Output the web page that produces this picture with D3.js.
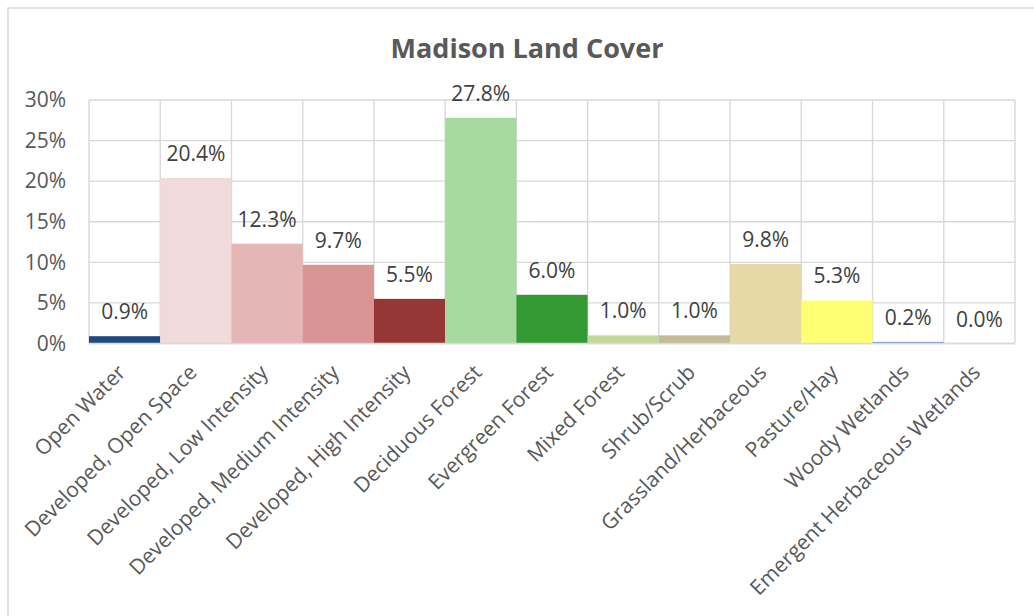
<!DOCTYPE html>
<html><head><meta charset="utf-8">
<script src="https://cdn.jsdelivr.net/npm/d3@7"></script>
<style>body{margin:0;background:#fff;} svg{display:block;}</style>
</head><body>
<svg id="chart" width="1034" height="616"></svg>
<script>
const categories = ["Open Water","Developed, Open Space","Developed, Low Intensity","Developed, Medium Intensity","Developed, High Intensity","Deciduous Forest","Evergreen Forest","Mixed Forest","Shrub/Scrub","Grassland/Herbaceous","Pasture/Hay","Woody Wetlands","Emergent Herbaceous Wetlands"];
const values = [0.009,0.204,0.123,0.097,0.055,0.278,0.060,0.010,0.010,0.098,0.053,0.002,0.000];
const colors = ["#1f497d","#f0dada","#e5b6b6","#d99594","#953735","#a6da9f","#339933","#c4d79b","#c4bb97","#e6d9a7","#ffff73","#6f9bd0","#ffffff"];
const yTicks = [0,0.05,0.10,0.15,0.20,0.25,0.30];
const title = "Madison Land Cover";

const svg = d3.select("#chart");
const font = "'Open Sans', sans-serif";
const m = {left: 89, right: 1015, top: 100, bottom: 343.5};

svg.append("rect").attr("x",8).attr("y",8).attr("width",1040).attr("height",640)
  .attr("fill","#fff").attr("stroke","#d9d9d9").attr("stroke-width",1.5);

svg.append("text").attr("x",527).attr("y",58).attr("text-anchor","middle")
  .attr("font-family",font).attr("font-weight","bold").attr("font-size",27)
  .attr("fill","#595959").text(title);

const x = d3.scaleBand().domain(categories).range([m.left,m.right]).padding(0);
const y = d3.scaleLinear().domain([0,0.30]).range([m.bottom,m.top]);

const g = svg.append("g");
g.selectAll(".hg").data(yTicks).join("line")
  .attr("x1",m.left).attr("x2",m.right)
  .attr("y1",d=>y(d)).attr("y2",d=>y(d))
  .attr("stroke","#d9d9d9").attr("stroke-width",1.4);
const bounds = categories.map(c=>x(c)).concat([m.right]);
g.selectAll(".vg").data(bounds).join("line")
  .attr("x1",d=>d).attr("x2",d=>d)
  .attr("y1",m.top).attr("y2",m.bottom)
  .attr("stroke","#d9d9d9").attr("stroke-width",1.4);

g.selectAll(".bar").data(categories).join("rect")
  .attr("x",c=>x(c)).attr("width",x.bandwidth())
  .attr("y",(c,i)=>y(values[i])).attr("height",(c,i)=>y(0)-y(values[i]))
  .attr("fill",(c,i)=>colors[i]);

g.append("line").attr("x1",m.left).attr("x2",m.right).attr("y1",y(0)).attr("y2",y(0))
  .attr("stroke","#d9d9d9").attr("stroke-width",1.6);

const yAxis = d3.axisLeft(y).tickValues(yTicks).tickFormat(d3.format(".0%")).tickSize(0).tickPadding(23);
const ya = svg.append("g").attr("transform",`translate(${m.left},0)`).call(yAxis);
ya.select(".domain").remove();
ya.selectAll("text").attr("font-family",font).attr("font-size",21).attr("fill","#595959");

g.selectAll(".lbl").data(categories).join("text")
  .attr("x",c=>x(c)+x.bandwidth()/2)
  .attr("y",(c,i)=>y(values[i])-17)
  .attr("text-anchor","middle").attr("font-family",font).attr("font-size",21)
  .attr("fill","#404040")
  .text((c,i)=>d3.format(".1%")(values[i]));

const xAxis = d3.axisBottom(x).tickSize(0).tickPadding(0);
const xa = svg.append("g").attr("transform",`translate(0,${y(0)})`).call(xAxis);
xa.select(".domain").remove();
xa.selectAll("text")
  .attr("font-family",font).attr("font-size",21).attr("fill","#595959")
  .attr("text-anchor","end")
  .attr("transform","translate(-3,25) rotate(-45)")
  .attr("dy","0.35em").attr("y",0).attr("x",0);
</script>
</body></html>
